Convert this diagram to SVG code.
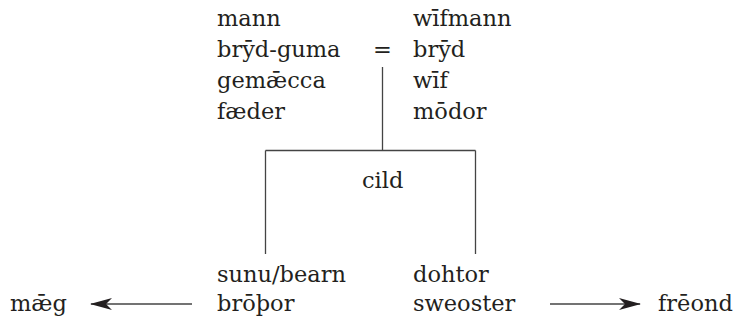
<svg xmlns="http://www.w3.org/2000/svg" width="746" height="327" viewBox="0 0 746 327">
<style>
text { font-family: "DejaVu Serif", "Liberation Serif", serif; font-size: 22.5px; fill: #231f20; }
.ln { stroke: #444; stroke-width: 1.3; fill: none; }
</style>
<defs>
<marker id="ah" viewBox="0 0 22 12" refX="21" refY="6" markerWidth="22" markerHeight="12" markerUnits="userSpaceOnUse" orient="auto">
<path d="M0,0 L22,6 L0,12 L6,6 Z" fill="#231f20"/>
</marker>
</defs>
<rect width="746" height="327" fill="#fff"/>
<g id="husband">
<text x="217" y="26">mann</text>
<text x="217" y="57">brȳd-guma</text>
<text x="217" y="88">gemǣcca</text>
<text x="217" y="119">fæder</text>
</g>
<g id="marriage"><text x="382.5" y="57" text-anchor="middle">=</text></g>
<g id="wife">
<text x="413" y="26">wīfmann</text>
<text x="413" y="57">brȳd</text>
<text x="413" y="88">wīf</text>
<text x="413" y="119">mōdor</text>
</g>
<g id="child"><text x="362" y="188">cild</text></g>
<g id="son">
<text x="217" y="282">sunu/bearn</text>
<text x="217" y="311">brōþor</text>
</g>
<g id="daughter">
<text x="413" y="282">dohtor</text>
<text x="413" y="311">sweoster</text>
</g>
<g id="kin"><text x="10" y="311">mǣg</text></g>
<g id="friend"><text x="658" y="311">frēond</text></g>
<g id="connectors">
<path class="ln" d="M382.5,67 V150.5 M265.5,150.5 H475.5 M265.5,150.5 V254 M475.5,150.5 V254"/>
<path class="ln" d="M192,304 H91" marker-end="url(#ah)"/>
<path class="ln" d="M550,304 H640" marker-end="url(#ah)"/>
</g>
</svg>
